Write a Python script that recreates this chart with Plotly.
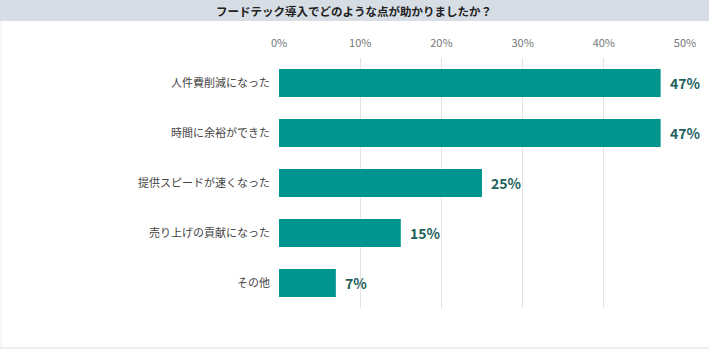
import plotly.graph_objects as go

categories = ["人件費削減になった", "時間に余裕ができた", "提供スピードが速くなった", "売り上げの貢献になった", "その他"]
values = [47, 47, 25, 15, 7]
tick_vals = [0, 10, 20, 30, 40, 50]
tick_text = ["0%", "10%", "20%", "30%", "40%", "50%"]
title = "フードテック導入でどのような点が助かりましたか？"

FONT = "Noto Sans CJK JP"

fig = go.Figure(go.Bar(
    y=categories, x=values, orientation="h",
    marker=dict(color="#00958f", line=dict(width=0)),
    width=0.56,
    hoverinfo="x+y",
))

W, H = 709, 356
L, R, T, B = 279, 24, 58, 48
pw, ph = W - L - R, H - T - B

def px(x):
    return (x - L) / pw

def py(y):
    return (H - B - y) / ph

annotations = [
    dict(text=title, xref="paper", yref="paper", x=px(354), y=py(10.5), showarrow=False,
         xanchor="center", yanchor="middle",
         font=dict(family=FONT, size=11.5, color="#222222", weight="bold")),
]
for c, v in zip(categories, values):
    annotations.append(dict(text=f"{v}%", x=v, y=c, xref="x", yref="y", showarrow=False,
                            xanchor="left", yanchor="middle", xshift=7,
                            font=dict(family=FONT, size=14, color="#1d5f5c", weight="bold")))

fig.update_layout(
    width=W, height=H,
    margin=dict(l=L, r=R, t=T, b=B),
    paper_bgcolor="white", plot_bgcolor="white",
    showlegend=False,
    font=dict(family=FONT),
    xaxis=dict(range=[0, 50], side="top", tickvals=tick_vals, ticktext=tick_text,
               showgrid=True, gridcolor="#e3e3e3", gridwidth=1, zeroline=False,
               tickfont=dict(family=FONT, size=11, color="#777777"), ticks="", ticklabelstandoff=8),
    yaxis=dict(categoryorder="array", categoryarray=categories[::-1], showgrid=False,
               tickfont=dict(family=FONT, size=11, color="#444444"), ticks="", ticklabelstandoff=8),
    shapes=[
        dict(type="rect", xref="paper", yref="paper", x0=px(0), x1=px(W), y0=py(21), y1=py(0),
             fillcolor="#d7dde5", line=dict(width=0), layer="below"),
        dict(type="line", xref="paper", yref="paper", x0=px(0), x1=px(W), y0=py(348), y1=py(348),
             line=dict(color="#dddddd", width=1)),
        dict(type="line", xref="paper", yref="paper", x0=px(1), x1=px(1), y0=py(21), y1=py(348),
             line=dict(color="#eeeeee", width=1)),
    ],
    annotations=annotations,
)

fig.write_html("out.html", config={"displayModeBar": False},
               post_script="document.body.style.margin='0';document.body.style.overflow='hidden';")
